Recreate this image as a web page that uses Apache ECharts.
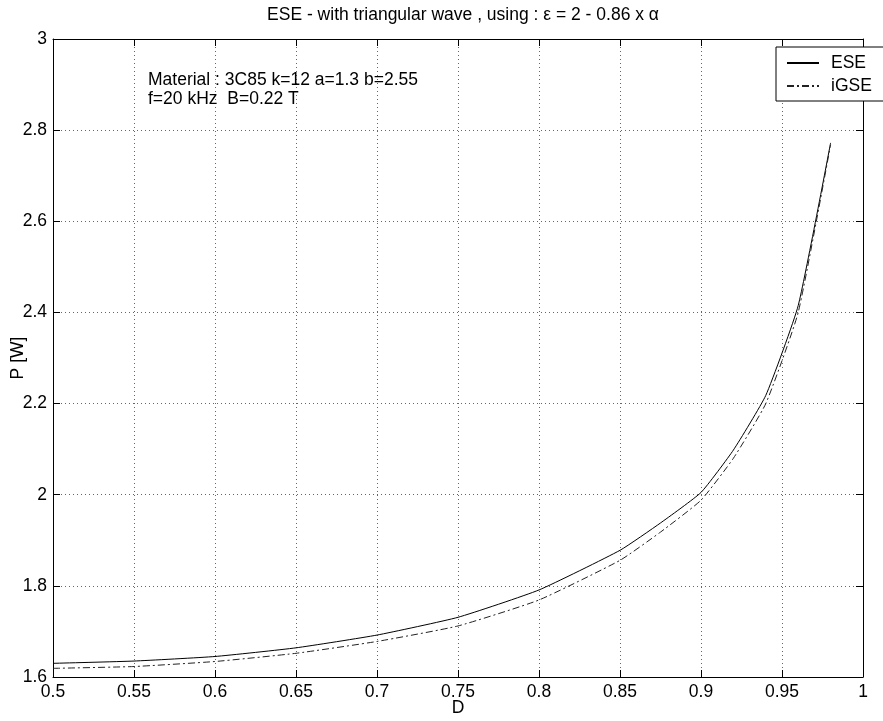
<!DOCTYPE html>
<html>
<head>
<meta charset="utf-8">
<script src="https://cdn.jsdelivr.net/npm/echarts@6/dist/echarts.min.js"></script>
<style>
html,body{margin:0;padding:0;background:#fff;}
#chart{width:883px;height:721px;}
</style>
</head>
<body>
<div id="chart"></div>
<script>
// ---- data ----
var dutyD = [0.5, 0.55, 0.6, 0.65, 0.7, 0.75, 0.8, 0.85, 0.875, 0.9, 0.92, 0.94, 0.96, 0.98];
var eseP  = [1.630, 1.635, 1.645, 1.664, 1.692, 1.731, 1.791, 1.878, 1.938, 2.005, 2.098, 2.218, 2.415, 2.772];
var igseP = [1.619, 1.623, 1.634, 1.652, 1.678, 1.712, 1.769, 1.856, 1.918, 1.988, 2.080, 2.200, 2.400, 2.768];
var seriesNames = ['ESE', 'iGSE'];
var titleText = 'ESE - with triangular wave , using : \u03b5 = 2 - 0.86 x \u03b1';
var noteLines = ['Material : 3C85 k=12 a=1.3 b=2.55', 'f=20 kHz  B=0.22 T'];
var xName = 'D', yName = 'P [W]';
var xMin = 0.5, xMax = 1, xStep = 0.05;
var yMin = 1.6, yMax = 3, yStep = 0.2;

function pairs(xs, ys){ return xs.map(function(x,i){ return [x, ys[i]]; }); }

var FONT = '"Liberation Sans", Arial, Helvetica, sans-serif';
var chart = echarts.init(document.getElementById('chart'), null, {renderer:'canvas'});

var axisCommon = {
  axisLine: {show:true, onZero:false, lineStyle:{color:'#000', width:1}},
  axisTick: {show:true, inside:true, length:7, lineStyle:{color:'#000'}},
};

chart.setOption({
  animation: false,
  backgroundColor: '#fff',
  textStyle: {fontFamily: FONT},
  title: {
    text: titleText,
    left: 458, top: 1, textAlign: 'center',
    textStyle: {fontFamily: FONT, fontSize: 17.5, fontWeight: 'normal', color: '#000'}
  },
  grid: {left: 53, right: 20, top: 39, bottom: 44, containLabel: false, outerBoundsMode: 'none'},
  legend: {
    data: seriesNames,
    orient: 'vertical',
    left: 776, top: 47,
    itemWidth: 32, itemHeight: 14, itemGap: 5,
    padding: [7, 13, 6, 10],
    backgroundColor: '#fff',
    borderColor: '#000', borderWidth: 1,
    itemStyle: {opacity: 0},
    textStyle: {fontFamily: FONT, fontSize: 17.5, color: '#000', padding: [0,0,0,7]}
  },
  graphic: [{
    type: 'text', left: 148, top: 71, z: 10,
    style: {text: noteLines.join('\n'), fontFamily: FONT, fontSize: 17.5, lineHeight: 19, fill: '#000'}
  }],
  xAxis: [Object.assign({
    type: 'value', min: xMin, max: xMax, interval: xStep,
    name: xName, nameLocation: 'middle', nameGap: 22, nameMoveOverlap: false,
    nameTextStyle: {fontFamily: FONT, fontSize: 17.5, color: '#000'},
    axisLabel: {color:'#000', fontFamily: FONT, fontSize: 17.5, margin: 6},
    splitLine: {show:true, lineStyle:{color:'#666', type:[1,3], width:1}}
  }, axisCommon), Object.assign({
    type: 'value', position: 'top', min: xMin, max: xMax, interval: xStep,
    axisLabel: {show:false}, splitLine: {show:false}
  }, axisCommon)],
  yAxis: [Object.assign({
    type: 'value', min: yMin, max: yMax, interval: yStep,
    name: yName, nameLocation: 'middle', nameGap: 26, nameRotate: 90, nameMoveOverlap: false,
    nameTextStyle: {fontFamily: FONT, fontSize: 17.5, color: '#000'},
    axisLabel: {color:'#000', fontFamily: FONT, fontSize: 17.5, margin: 6},
    splitLine: {show:true, lineStyle:{color:'#666', type:[1,3], width:1}}
  }, axisCommon), Object.assign({
    type: 'value', position: 'right', min: yMin, max: yMax, interval: yStep,
    axisLabel: {show:false}, splitLine: {show:false}
  }, axisCommon)],
  series: [{
    name: seriesNames[0], type: 'line', data: pairs(dutyD, eseP),
    symbol: 'none', smooth: 0.15,
    lineStyle: {color: '#000', width: 1, type: 'solid'},
    itemStyle: {color: '#000'}
  }, {
    name: seriesNames[1], type: 'line', data: pairs(dutyD, igseP),
    symbol: 'none', smooth: 0.15,
    lineStyle: {color: '#222', width: 1, type: [7, 3, 2, 3]},
    itemStyle: {color: '#222'}
  }]
});
</script>
</body>
</html>
